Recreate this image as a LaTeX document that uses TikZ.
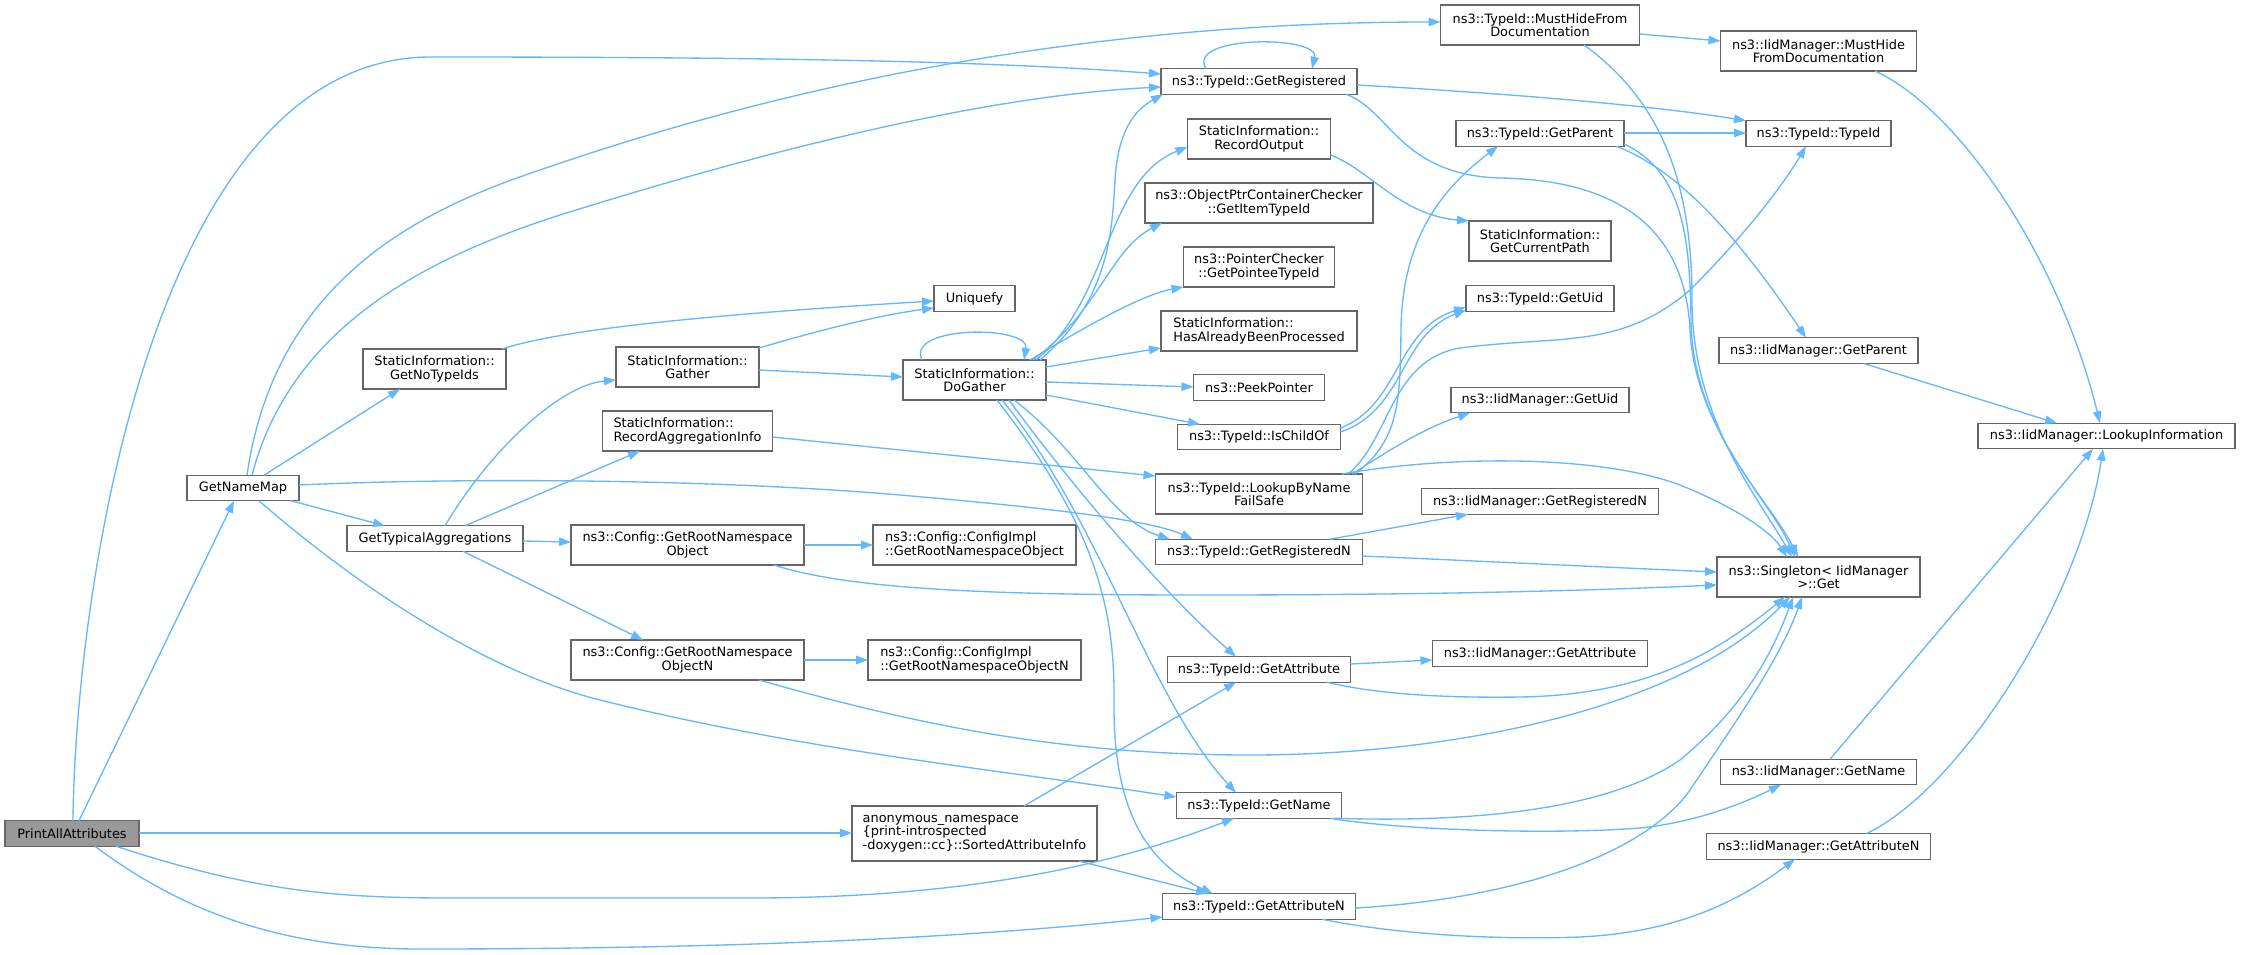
\documentclass[tikz,border=0pt]{standalone}
\usepackage{fontspec}
\setmainfont{DejaVu Sans}
\usetikzlibrary{arrows.meta}
\definecolor{edgec}{HTML}{63B8FF}
\definecolor{nodeborder}{HTML}{666666}
\definecolor{rootfill}{HTML}{999999}
\newcommand\dgfont{\fontsize{12.9}{13.4}\selectfont}
\tikzset{
  nd/.style={draw=nodeborder, fill=white, line width=1.33pt, inner sep=0pt, outer sep=0pt, font=\dgfont, align=center, minimum height=25.5pt},
  ndtwo/.style={nd, minimum height=40pt},
  ndl/.style={nd, align=left, minimum height=40pt},
  rootnd/.style={nd, fill=rootfill},
  e/.style={draw=edgec, line width=1.33pt, -{Triangle[length=12pt,width=8.5pt]}},
}
\begin{document}
\begin{tikzpicture}[x=1pt,y=-1pt]
\fill[white] (0,0) rectangle (2241,955);
\useasboundingbox (0,0) rectangle (2241,955);
% column 0
\node[rootnd, minimum width=134pt] (pa) at (72,833.5) {PrintAllAttributes};
\node[nd, minimum width=112pt] (gnm) at (243,488) {GetNameMap};
% column 1
\node[ndtwo, minimum width=143pt] (gnt) at (434.5,369) {StaticInformation::\\GetNoTypeIds};
\node[nd, minimum width=176pt] (gta) at (435,538.5) {GetTypicalAggregations};
% column 2
\node[ndtwo, minimum width=143pt] (gat) at (687.5,367) {StaticInformation::\\Gather};
\node[ndl, minimum width=170pt] (rai) at (687.5,431) {StaticInformation::\\RecordAggregationInfo};
\node[ndtwo, minimum width=233pt] (cgo) at (687.5,545) {ns3::Config::GetRootNamespace\\Object};
\node[ndtwo, minimum width=233pt] (cgon) at (687.5,660) {ns3::Config::GetRootNamespace\\ObjectN};
% column 3
\node[nd, minimum width=81pt] (uq) at (974.5,298.5) {Uniquefy};
\node[ndtwo, minimum width=143pt] (dg) at (974.5,380) {StaticInformation::\\DoGather};
\node[ndl, minimum width=203pt] (cio) at (974.5,545) {ns3::Config::ConfigImpl\\::GetRootNamespaceObject};
\node[ndl, minimum width=213pt] (cion) at (974.5,660) {ns3::Config::ConfigImpl\\::GetRootNamespaceObjectN};
\node[ndl, minimum width=245pt, minimum height=55pt] (sai) at (974.5,833.5) {anonymous\_namespace\\\{print-introspected\\-doxygen::cc\}::SortedAttributeInfo};
% column 4
\node[nd, minimum width=196pt] (gr) at (1259,81.5) {ns3::TypeId::GetRegistered};
\node[ndtwo, minimum width=143pt] (ro) at (1259,139) {StaticInformation::\\RecordOutput};
\node[ndtwo, minimum width=228pt] (opc) at (1259,203) {ns3::ObjectPtrContainerChecker\\::GetItemTypeId};
\node[ndtwo, minimum width=151pt] (pc) at (1259,267) {ns3::PointerChecker\\::GetPointeeTypeId};
\node[ndl, minimum width=196pt] (hab) at (1259,331) {StaticInformation::\\HasAlreadyBeenProcessed};
\node[nd, minimum width=131pt] (pp) at (1259,387.5) {ns3::PeekPointer};
\node[nd, minimum width=163pt] (ico) at (1259,437) {ns3::TypeId::IsChildOf};
\node[ndtwo, minimum width=207pt] (lbn) at (1259,494) {ns3::TypeId::LookupByName\\FailSafe};
\node[nd, minimum width=207pt] (grn) at (1259,552) {ns3::TypeId::GetRegisteredN};
\node[nd, minimum width=183pt] (ga) at (1259,669.5) {ns3::TypeId::GetAttribute};
\node[nd, minimum width=165pt] (gn) at (1259,805.5) {ns3::TypeId::GetName};
\node[nd, minimum width=193pt] (gan) at (1259,906.5) {ns3::TypeId::GetAttributeN};
% column 5
\node[ndtwo, minimum width=199pt] (mh) at (1540,25) {ns3::TypeId::MustHideFrom\\Documentation};
\node[nd, minimum width=168pt] (gp) at (1540,133.5) {ns3::TypeId::GetParent};
\node[ndtwo, minimum width=142pt] (gcp) at (1540,241) {StaticInformation::\\GetCurrentPath};
\node[nd, minimum width=148pt] (gu) at (1540,298.5) {ns3::TypeId::GetUid};
\node[nd, minimum width=178pt] (igu) at (1540,400) {ns3::IidManager::GetUid};
\node[nd, minimum width=237pt] (igrn) at (1540,501.5) {ns3::IidManager::GetRegisteredN};
\node[nd, minimum width=215pt] (iga) at (1540,653.5) {ns3::IidManager::GetAttribute};
% column 6
\node[ndtwo, minimum width=196pt] (imh) at (1818.5,51) {ns3::IidManager::MustHide\\FromDocumentation};
\node[nd, minimum width=145pt] (tt) at (1818.5,133.5) {ns3::TypeId::TypeId};
\node[nd, minimum width=199pt] (igp) at (1818.5,350.5) {ns3::IidManager::GetParent};
\node[ndtwo, minimum width=203pt] (sg) at (1818.5,577) {ns3::Singleton< IidManager\\>::Get};
\node[nd, minimum width=196pt] (ign) at (1818.5,772) {ns3::IidManager::GetName};
\node[nd, minimum width=224pt] (igan) at (1818.5,846.5) {ns3::IidManager::GetAttributeN};
% column 7
\node[nd, minimum width=257pt] (li) at (2106.5,436) {ns3::IidManager::LookupInformation};

% edges from PrintAllAttributes
\draw[e] (pa.north -| 79,0) -- (gnm.south -| 234,0);
\draw[e] (pa.north -| 73,0) .. controls (75,600) and (150,57) .. (431,57) .. controls (800,57) and (1000,62) .. (gr.west |- 0,74);
\draw[e] (pa.east |- 0,833) -- (sai.west |- 0,833);
\draw[e] (pa.south -| 116,0) .. controls (250,890) and (330,898) .. (450,898) -- (750,898) .. controls (950,898) and (1100,870) .. (gn.south -| 1234,0);
\draw[e] (pa.south -| 95,0) .. controls (180,910) and (280,949) .. (420,949) .. controls (700,949) and (950,940) .. (gan.west |- 0,917);
% edges from GetNameMap
\draw[e] (gnm.north -| 247,0) .. controls (275,280) and (420,210) .. (540,170) .. controls (800,80) and (1100,22) .. (mh.west |- 0,22);
\draw[e] (gnm.north -| 252,0) .. controls (290,330) and (420,260) .. (560,215) .. controls (800,140) and (1000,95) .. (gr.west |- 0,87);
\draw[e] (gnm.north -| 264,0) -- (gnt.south -| 400,0);
\draw[e] (gnm.south -| 291,0) -- (gta.north -| 385,0);
\draw[e] (gnm.east |- 0,485) .. controls (450,478) and (700,478) .. (900,495) .. controls (1050,508) and (1150,520) .. (grn.north -| 1193,0);
\draw[e] (gnm.south -| 259,0) .. controls (350,580) and (480,670) .. (600,700) .. controls (800,750) and (1000,770) .. (gn.west |- 0,797);
% GetTypicalAggregations
\draw[e] (gta.north -| 445,0) .. controls (490,450) and (560,385) .. (gat.west |- 0,380);
\draw[e] (gta.north -| 465,0) -- (rai.south -| 640,0);
\draw[e] (gta.east |- 0,541) -- (cgo.west |- 0,542);
\draw[e] (gta.south -| 463,0) -- (cgon.north -| 643,0);
% GetNoTypeIds, Gather
\draw[e] (gnt.north -| 502,0) .. controls (560,330) and (700,315) .. (uq.west |- 0,301);
\draw[e] (gat.east |- 0,348) .. controls (820,330) and (880,315) .. (uq.west |- 0,308);
\draw[e] (gat.east |- 0,370) -- (dg.west |- 0,377);
% DoGather
\draw[e] (dg.north -| 922,0) .. controls (905,325) and (1030,325) .. (dg.north -| 1024,0);
\draw[e] (dg.north -| 1040,0) .. controls (1110,300) and (1112,230) .. (1115,180) .. controls (1118,130) and (1135,110) .. (gr.south -| 1163,0);
\draw[e] (dg.north -| 1036,0) .. controls (1110,300) and (1105,180) .. (ro.west |- 0,147);
\draw[e] (dg.north -| 1033,0) .. controls (1100,310) and (1110,250) .. (opc.south -| 1162,0);
\draw[e] (dg.north -| 1030,0) .. controls (1080,330) and (1140,295) .. (pc.south west);
\draw[e] (dg.east |- 0,367) -- (hab.west |- 0,348);
\draw[e] (dg.east |- 0,382) -- (pp.west |- 0,387);
\draw[e] (dg.east |- 0,395) -- (ico.north -| 1200,0);
\draw[e] (dg.south -| 1014,0) .. controls (1080,450) and (1110,520) .. (grn.north -| 1170,0);
\draw[e] (dg.south -| 1009,0) .. controls (1060,470) and (1150,580) .. (ga.north -| 1236,0);
\draw[e] (dg.south -| 1002,0) .. controls (1100,520) and (1150,700) .. (gn.north -| 1236,0);
\draw[e] (dg.south -| 997,0) .. controls (1090,520) and (1115,600) .. (1114,700) .. controls (1113,800) and (1140,860) .. (gan.north -| 1213,0);
% RecordAggregationInfo, Config
\draw[e] (rai.east |- 0,437) -- (lbn.west |- 0,476);
\draw[e] (cgo.east |- 0,545) -- (cio.west |- 0,545);
\draw[e] (cgo.south -| 774,0) .. controls (850,590) and (1000,595) .. (1200,595) .. controls (1450,595) and (1600,590) .. (sg.west |- 0,585);
\draw[e] (cgon.east |- 0,660) -- (cion.west |- 0,660);
\draw[e] (cgon.south -| 759,0) .. controls (900,720) and (1050,755) .. (1250,755) .. controls (1450,755) and (1680,710) .. (sg.south -| 1790,0);
% SortedAttributeInfo
\draw[e] (sai.north -| 1024,0) -- (ga.south -| 1236,0);
\draw[e] (sai.south -| 1079,0) -- (gan.north -| 1208,0);
% GetRegistered
\draw[e] (gr.north -| 1206,0) .. controls (1185,35) and (1320,35) .. (gr.north -| 1312,0);
\draw[e] (gr.east |- 0,85) .. controls (1500,93) and (1650,105) .. (tt.north west);
\draw[e] (gr.south -| 1346,0) .. controls (1390,110) and (1400,175) .. (1500,178) .. controls (1620,180) and (1685,230) .. (1690,330) .. controls (1695,430) and (1770,500) .. (sg.north -| 1795,0);
% MustHide, GetParent
\draw[e] (mh.east |- 0,34) -- (imh.west |- 0,41);
\draw[e] (mh.south -| 1584,0) .. controls (1660,100) and (1692,180) .. (1692,300) .. controls (1692,420) and (1760,500) .. (sg.north -| 1792,0);
\draw[e] (gp.east |- 0,133) -- (tt.west |- 0,133);
\draw[e] (gp.south -| 1616,0) .. controls (1680,170) and (1740,240) .. (igp.north -| 1806,0);
\draw[e] (gp.east |- 0,144) .. controls (1680,170) and (1690,230) .. (1691,320) .. controls (1692,430) and (1770,500) .. (sg.north -| 1798,0);
% IidManager -> LookupInformation
\draw[e] (imh.south -| 1875,0) .. controls (1960,110) and (2060,260) .. (li.north -| 2100,0);
\draw[e] (igp.south -| 1863,0) -- (li.north -| 2057,0);
\draw[e] (ign.north -| 1830,0) -- (li.south -| 2093,0);
\draw[e] (igan.north -| 1866,0) .. controls (1960,790) and (2080,600) .. (li.south -| 2103,0);
% GetRegisteredN, GetAttribute, GetName, GetAttributeN
\draw[e] (grn.north -| 1330,0) -- (igrn.south -| 1468,0);
\draw[e] (grn.east |- 0,556) .. controls (1500,562) and (1600,567) .. (sg.west |- 0,572);
\draw[e] (ga.east |- 0,664) -- (iga.west |- 0,660);
\draw[e] (ga.south -| 1327,0) .. controls (1380,695) and (1450,698) .. (1520,697) .. controls (1650,695) and (1720,650) .. (sg.south -| 1785,0);
\draw[e] (gn.south -| 1335,0) .. controls (1450,822) and (1600,815) .. (1680,760) .. controls (1740,710) and (1770,660) .. (sg.south -| 1793,0);
\draw[e] (gn.south -| 1330,0) .. controls (1400,830) and (1550,835) .. (1640,828) .. controls (1700,822) and (1750,800) .. (ign.south -| 1781,0);
\draw[e] (gan.east |- 0,908) .. controls (1500,900) and (1640,860) .. (1690,790) .. controls (1730,730) and (1780,660) .. (sg.south -| 1802,0);
\draw[e] (gan.south -| 1322,0) .. controls (1400,935) and (1500,940) .. (1580,937) .. controls (1680,932) and (1740,900) .. (igan.south -| 1795,0);
% LookupByNameFailSafe
\draw[e] (lbn.north -| 1342,0) .. controls (1450,455) and (1600,455) .. (1680,485) .. controls (1730,505) and (1770,530) .. (sg.north -| 1787,0);
\draw[e] (lbn.north -| 1352,0) .. controls (1390,450) and (1420,430) .. (igu.south -| 1470,0);
\draw[e] (lbn.north -| 1348,0) .. controls (1390,440) and (1390,360) .. (1460,348) .. controls (1560,335) and (1620,350) .. (1690,290) .. controls (1740,240) and (1780,190) .. (tt.south -| 1806,0);
\draw[e] (lbn.north -| 1355,0) .. controls (1400,440) and (1400,400) .. (1401,330) .. controls (1402,240) and (1440,190) .. (gp.south -| 1498,0);
% IsChildOf, RecordOutput
\draw[e] (ico.east |- 0,428) .. controls (1400,405) and (1395,330) .. (gu.west |- 0,307);
\draw[e] (ico.east |- 0,432) .. controls (1405,410) and (1400,335) .. (gu.west |- 0,310);
\draw[e] (ro.east |- 0,155) .. controls (1370,170) and (1400,215) .. (gcp.north west);
\end{tikzpicture}
\end{document}
